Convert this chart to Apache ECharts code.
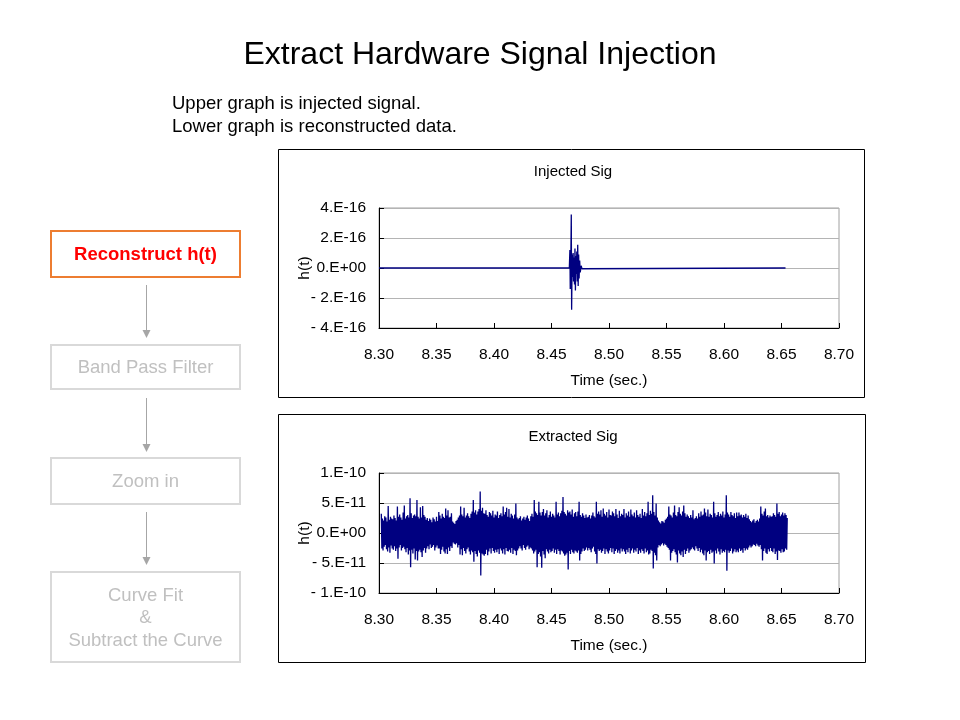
<!DOCTYPE html>
<html>
<head>
<meta charset="utf-8">
<script src="https://cdn.jsdelivr.net/npm/echarts@6/dist/echarts.min.js"></script>
<style>html,body{margin:0;padding:0;background:#fff;}#c{width:960px;height:720px;}</style>
</head>
<body>
<div id="c"></div>
<script>
// ---- data ----
const xTicks = ['8.30','8.35','8.40','8.45','8.50','8.55','8.60','8.65','8.70'];
const upperYLabels = {'4':'4.E-16','2':'2.E-16','0':'0.E+00','-2':'- 2.E-16','-4':'- 4.E-16'};
const lowerYLabels = {'10':'1.E-10','5':'5.E-11','0':'0.E+00','-5':'- 5.E-11','-10':'- 1.E-10'};
// injected signal: [time (s), h(t) in 1e-16]
const injectedSig = [
  [8.300,0],[8.4195,0],[8.4200,0.04],[8.4205,0],[8.4655,0],[8.4660,1.2],[8.4663,-1.4],[8.4668,0.5],
  [8.4672,3.57],[8.4675,-2.78],[8.4680,0.9],[8.4684,-0.6],[8.4688,1.0],[8.4692,-0.9],[8.4696,0.7],
  [8.4700,-1.1],[8.4704,1.3],[8.4708,-1.5],[8.4712,0.8],[8.4716,-0.4],[8.4720,1.1],[8.4724,-0.9],
  [8.4728,1.55],[8.4732,-1.2],[8.4736,0.9],[8.4740,-0.7],[8.4745,0.5],[8.4750,-0.3],[8.4758,0.15],
  [8.4765,-0.05],[8.4775,0.03],[8.4780,0],[8.6535,0]
];
// extracted signal: samples every 0.5 ms from 8.302 s, h(t) in 1e-11
const extractedStart = 8.302;
const extractedStep = 0.0005;
const extractedSig = [
  3.2,-2.6,2.4,-2.9,2.1,-2.3,2.8,-2.0,2.6,-2.7,1.9,-3.1,4.5,-2.4,2.2,-3.3,2.7,-2.1,2.4,-2.6,
  2.3,-2.8,2.9,-2.2,2.5,-3.0,2.1,-2.6,4.4,-4.3,2.7,-2.4,3.1,-2.0,2.6,-2.9,2.2,-2.5,3.4,-2.3,
  4.6,-2.7,2.4,-3.2,2.8,-2.5,3.0,-3.6,2.6,-2.9,5.8,-5.7,3.3,-2.8,2.5,-3.4,2.9,-2.6,3.1,-4.4,
  2.8,-3.0,5.5,-4.6,2.7,-3.1,2.4,-2.8,4.3,-3.2,2.6,-4.0,4.5,-2.9,3.0,-2.5,2.7,-3.3,2.2,-2.6,
  2.5,-2.2,2.0,-2.7,2.4,-1.9,2.2,-2.5,1.8,-2.3,2.6,-2.0,2.3,-2.9,1.9,-2.4,2.7,-2.1,2.0,-2.6,
  3.5,-2.6,2.9,-3.5,2.4,-2.8,3.2,-2.3,2.7,-3.1,2.5,-3.4,4.1,-2.7,2.9,-3.5,3.8,-2.4,2.6,-3.0,
  2.7,-2.2,3.3,-2.5,1.9,-1.6,1.7,-1.8,1.5,-1.9,2.0,-1.7,2.2,-2.4,2.6,-2.0,2.9,-3.6,4.4,-2.7,
  3.1,-3.7,2.8,-2.5,4.2,-3.0,2.6,-3.4,2.9,-2.7,3.3,-2.4,2.8,-3.1,2.5,-3.6,3.2,-2.9,3.6,-3.2,
  5.5,-4.8,3.4,-3.0,3.8,-3.5,3.1,-3.9,3.6,-2.9,4.0,-3.3,6.9,-7.1,3.7,-3.4,4.2,-3.6,3.3,-3.8,
  3.2,-3.5,3.8,-2.8,3.0,-3.7,2.7,-3.1,3.5,-2.6,3.3,-3.4,2.9,-2.5,3.7,-3.0,2.6,-3.3,3.1,-2.8,
  2.9,-3.2,3.6,-2.7,2.5,-3.5,3.0,-2.6,3.3,-2.9,2.8,-3.4,4.4,-2.7,3.1,-3.6,3.5,-2.5,4.2,-3.0,
  2.7,-3.1,4.0,-2.8,2.6,-3.3,3.2,-2.5,2.9,-3.5,2.4,-2.8,3.1,-3.0,4.9,-3.7,2.6,-2.9,2.3,-2.6,
  2.5,-2.2,2.8,-2.6,2.1,-2.9,2.4,-2.0,2.7,-2.5,2.2,-2.8,2.6,-2.3,2.9,-2.1,2.4,-2.7,2.0,-2.4,
  2.8,-2.6,3.2,-2.9,2.7,-3.4,5.5,-3.1,3.6,-2.8,3.3,-5.7,3.0,-3.5,5.2,-3.2,3.4,-3.9,2.9,-5.8,
  3.5,-3.0,4.0,-3.6,2.9,-4.2,3.3,-2.7,3.8,-3.1,2.6,-3.4,3.0,-2.8,3.6,-3.2,2.7,-3.0,3.2,-2.6,
  2.9,-3.3,2.6,-2.8,5.2,-3.5,3.1,-2.7,3.4,-3.0,2.8,-3.6,3.3,-2.9,3.7,-3.1,6.0,-3.4,3.5,-3.8,
  3.2,-3.6,2.9,-3.3,3.8,-6.1,3.4,-3.0,3.6,-3.5,3.1,-2.8,3.9,-3.2,2.7,-3.4,3.3,-2.9,3.5,-3.1,
  2.8,-3.3,3.6,-2.9,5.2,-4.6,3.0,-3.5,2.7,-3.1,3.3,-2.6,2.9,-3.0,2.5,-2.8,3.1,-2.4,2.6,-2.9,
  2.7,-2.5,3.0,-2.8,2.4,-3.2,2.9,-2.6,3.4,-2.3,2.8,-3.1,2.6,-3.5,5.2,-5.1,3.2,-2.7,3.6,-3.0,
  3.1,-2.8,3.8,-3.3,2.7,-3.0,4.1,-2.6,3.2,-3.5,2.9,-2.7,3.5,-3.1,2.6,-3.4,3.9,-2.9,3.0,-2.5,
  2.9,-3.2,3.6,-2.6,3.3,-3.5,2.8,-3.0,4.0,-2.7,3.1,-3.3,2.5,-2.9,3.7,-3.4,2.8,-2.6,3.2,-3.1,
  3.0,-2.7,4.0,-3.1,2.6,-3.5,3.3,-2.8,2.9,-3.2,3.6,-2.5,2.7,-3.4,3.9,-2.9,3.1,-2.6,2.8,-3.3,
  3.4,-2.8,2.6,-3.1,3.8,-2.5,3.0,-3.5,2.7,-2.9,3.2,-3.3,2.5,-2.7,4.0,-3.0,2.9,-3.4,3.5,-2.6,
  2.8,-3.2,3.3,-2.9,5.2,-3.6,3.0,-3.4,3.7,-2.8,3.2,-3.0,6.3,-5.9,3.5,-3.3,2.9,-3.7,4.9,-4.6,
  2.6,-2.4,2.1,-2.0,1.8,-2.2,1.6,-1.9,2.0,-1.7,1.9,-2.1,1.7,-1.8,2.2,-2.0,2.4,-2.3,2.7,-2.5,
  4.4,-2.8,3.1,-4.6,2.9,-3.3,2.6,-3.0,3.4,-2.7,4.6,-3.2,3.0,-3.6,2.8,-4.9,3.5,-2.9,4.3,-3.4,
  3.2,-3.7,2.9,-3.1,3.6,-4.0,4.6,-2.8,3.3,-3.5,2.7,-3.0,3.1,-2.6,2.8,-3.3,2.5,-2.9,3.0,-2.7,
  2.6,-2.4,3.8,-2.7,2.3,-2.9,2.5,-2.2,2.8,-2.6,2.4,-3.0,3.3,-2.5,2.7,-3.2,3.6,-2.8,2.9,-3.4,
  3.1,-3.7,4.1,-2.9,3.4,-4.6,2.8,-3.2,3.9,-3.0,2.7,-3.5,3.2,-2.8,3.0,-3.3,2.6,-3.1,5.2,-5.1,
  3.3,-2.9,2.7,-3.4,3.0,-2.6,3.5,-3.1,2.8,-3.6,3.2,-2.7,2.9,-3.3,3.6,-3.0,2.6,-3.2,3.1,-2.8,
  6.3,-6.3,3.4,-2.9,3.1,-3.3,2.7,-3.0,3.5,-2.6,3.0,-3.4,2.8,-3.1,3.3,-2.7,2.5,-3.2,3.4,-2.9,
  2.8,-3.2,3.4,-2.6,2.9,-3.0,3.1,-2.8,2.6,-3.3,3.0,-2.5,2.7,-2.9,3.2,-2.6,2.5,-2.8,2.9,-2.4,
  2.3,-2.1,2.0,-2.4,1.8,-2.2,2.1,-1.9,2.3,-2.0,1.7,-2.2,2.0,-1.8,2.2,-2.1,1.9,-2.3,2.4,-2.0,
  4.4,-2.7,3.2,-4.6,2.9,-3.0,3.6,-2.6,4.1,-3.3,2.8,-3.5,3.0,-2.7,2.6,-3.1,2.9,-2.5,2.7,-3.0,
  2.8,-3.2,3.3,-2.6,3.0,-3.5,2.7,-3.1,4.9,-4.5,3.2,-2.9,3.5,-3.0,2.8,-3.3,3.1,-2.7,3.4,-3.2,
  2.9,-3.1,3.3,-2.6,3.0,-2.8,2.5
];
const flowSteps = ['Reconstruct h(t)','Band Pass Filter','Zoom in','Curve Fit\n&\nSubtract the Curve'];
const chartTitles = ['Injected Sig','Extracted Sig'];

// ---- chart ----
const FONT = '"Liberation Sans", Arial, sans-serif';
const AX = 15.5;
const extractedPairs = extractedSig.map((v, i) => [+(extractedStart + i * extractedStep).toFixed(4), v]);

function xAxisCfg(gi) {
  return {
    gridIndex: gi, type: 'value', min: 8.30, max: 8.70, interval: 0.05,
    axisLine: {show: true, onZero: false, lineStyle: {color: '#000', width: 1}},
    axisTick: {show: true, inside: true, length: 5, lineStyle: {color: '#000'}},
    axisLabel: {margin: 19, fontFamily: FONT, fontSize: AX, color: '#000',
      formatter: v => { const i = Math.round((v - 8.30) / 0.05); return xTicks[i] || ''; }},
    splitLine: {show: false},
    name: 'Time (sec.)', nameLocation: 'middle', nameGap: 45, nameMoveOverlap: false,
    nameTextStyle: {fontFamily: FONT, fontSize: AX, color: '#000'}
  };
}
function yAxisCfg(gi, lim, step, labels) {
  return {
    gridIndex: gi, type: 'value', min: -lim, max: lim, interval: step,
    axisLine: {show: true, lineStyle: {color: '#000', width: 1}},
    axisTick: {show: true, inside: true, length: 5, lineStyle: {color: '#000'}},
    axisLabel: {margin: 13, fontFamily: FONT, fontSize: AX, color: '#000',
      formatter: v => labels[String(Math.round(v))] || ''},
    splitLine: {show: true, lineStyle: {color: '#b4b4b4', width: 1}},
    name: 'h(t)', nameLocation: 'middle', nameGap: 66, nameRotate: 90, nameMoveOverlap: false,
    nameTextStyle: {fontFamily: FONT, fontSize: AX, color: '#000'}
  };
}

const graphics = [];
// slide title and notes
graphics.push({type:'text', x:480, y:55, style:{text:'Extract Hardware Signal Injection', font:'32px ' + FONT, fill:'#000', align:'center', verticalAlign:'middle'}});
graphics.push({type:'text', x:172, y:104, style:{text:'Upper graph is injected signal.', font:'18.5px ' + FONT, fill:'#000', align:'left', verticalAlign:'middle'}});
graphics.push({type:'text', x:172, y:127, style:{text:'Lower graph is reconstructed data.', font:'18.5px ' + FONT, fill:'#000', align:'left', verticalAlign:'middle'}});
// chart frames
graphics.push({type:'rect', shape:{x:278.5, y:149.5, width:586, height:248}, style:{fill:'none', stroke:'#000', lineWidth:1}});
graphics.push({type:'rect', shape:{x:278.5, y:414.5, width:587, height:248}, style:{fill:'none', stroke:'#000', lineWidth:1}});
graphics.push({type:'text', x:573, y:172, style:{text:chartTitles[0], font:'15px ' + FONT, fill:'#000', align:'center', verticalAlign:'middle'}});
graphics.push({type:'text', x:573, y:437, style:{text:chartTitles[1], font:'15px ' + FONT, fill:'#000', align:'center', verticalAlign:'middle'}});
// flow chart
const boxes = [[231,46],[345,44],[458,46],[572,90]];
boxes.forEach((b, i) => {
  const active = i === 0;
  graphics.push({type:'rect', shape:{x:51, y:b[0], width:189, height:b[1]},
    style:{fill:'#fff', stroke: active ? '#ED7D31' : '#d9d9d9', lineWidth:2}});
  graphics.push({type:'text', x:145.5, y:b[0] + b[1] / 2 + 1,
    style:{text:flowSteps[i], font:(active ? 'bold ' : '') + '18.5px ' + FONT, fill: active ? '#ff0000' : '#c0c0c0',
      align:'center', verticalAlign:'middle', lineHeight:22.5}});
});
[[285,338],[398,452],[512,565]].forEach(a => {
  graphics.push({type:'line', shape:{x1:146.5, y1:a[0], x2:146.5, y2:a[1] - 6}, style:{stroke:'#a6a6a6', lineWidth:1}});
  graphics.push({type:'polygon', shape:{points:[[142.5,a[1]-8],[150.5,a[1]-8],[146.5,a[1]]]}, style:{fill:'#a6a6a6'}});
});

const chart = echarts.init(document.getElementById('c'), null, {renderer:'canvas'});
chart.setOption({
  backgroundColor: '#fff',
  animation: false,
  grid: [
    {left:379, top:208, width:460, height:120, show:true, borderColor:'#a0a0a0', borderWidth:1, backgroundColor:'transparent'},
    {left:379, top:473, width:460, height:120, show:true, borderColor:'#a0a0a0', borderWidth:1, backgroundColor:'transparent'}
  ],
  xAxis: [xAxisCfg(0), xAxisCfg(1)],
  yAxis: [yAxisCfg(0, 4, 2, upperYLabels), yAxisCfg(1, 10, 5, lowerYLabels)],
  series: [
    {type:'line', xAxisIndex:0, yAxisIndex:0, data:injectedSig, showSymbol:false, symbol:'none',
      lineStyle:{color:'#000080', width:1.3}},
    {type:'line', xAxisIndex:1, yAxisIndex:1, data:extractedPairs, showSymbol:false, symbol:'none',
      lineStyle:{color:'#000080', width:1.3}}
  ],
  graphic: graphics
});
</script>
</body>
</html>
